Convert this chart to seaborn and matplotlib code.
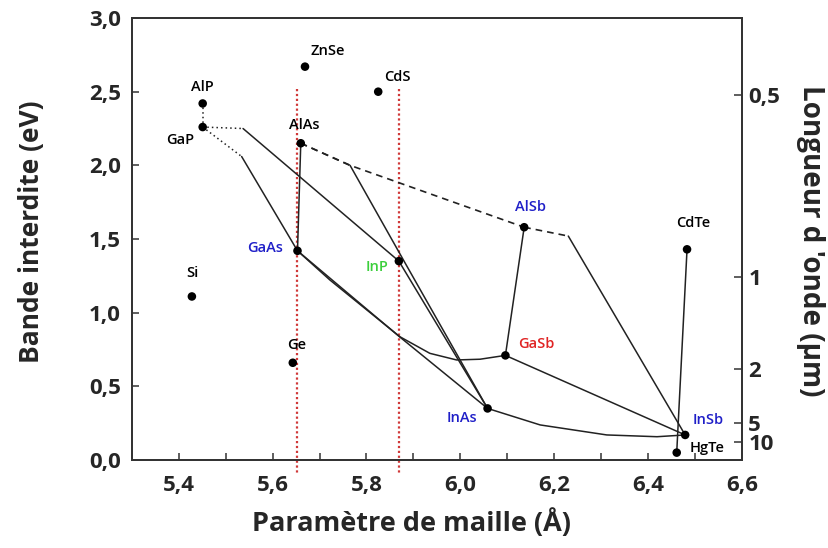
import matplotlib
matplotlib.use("Agg")
import matplotlib.pyplot as plt
import pandas as pd
import seaborn as sns

# %% binary compounds: lattice parameter (Å), band gap (eV)
names = ["AlP", "GaP", "ZnSe", "CdS", "AlAs", "GaAs", "InP", "Si", "Ge",
         "AlSb", "GaSb", "InAs", "InSb", "HgTe", "CdTe"]
lattice = [5.451, 5.451, 5.669, 5.825, 5.660, 5.653, 5.869, 5.428, 5.643,
           6.136, 6.096, 6.058, 6.479, 6.461, 6.483]
gap = [2.42, 2.26, 2.67, 2.50, 2.15, 1.42, 1.35, 1.11, 0.66,
       1.58, 0.71, 0.35, 0.17, 0.05, 1.43]
label_colors = ["black", "black", "black", "black", "black", "#1f1fc8", "#3ccf3c", "black", "black",
                "#1f1fc8", "#e02424", "#1f1fc8", "#1f1fc8", "black", "black"]

# ternary alloys
alp_gap_x, alp_gap_y = [5.451, 5.451], [2.42, 2.26]
gainp_ind_x, gainp_ind_y = [5.451, 5.537], [2.26, 2.25]
gainp_x, gainp_y = [5.537, 5.869], [2.25, 1.35]
gaasp_ind_x, gaasp_ind_y = [5.451, 5.534], [2.26, 2.06]
gaasp_x, gaasp_y = [5.534, 5.653], [2.06, 1.42]
algaas_x, algaas_y = [5.660, 5.653], [2.15, 1.42]
alassb_x, alassb_y = [5.660, 5.765, 6.136], [2.15, 2.00, 1.58]
alinas_ind_x, alinas_ind_y = [5.660, 5.765], [2.15, 2.00]
alinas_x, alinas_y = [5.765, 5.880, 6.058], [2.00, 1.35, 0.35]
alinsb_ind_x, alinsb_ind_y = [6.136, 6.230], [1.58, 1.52]
alinsb_x, alinsb_y = [6.230, 6.479], [1.52, 0.17]
algasb_x, algasb_y = [6.136, 6.096], [1.58, 0.71]
gainsb_x, gainsb_y = [6.096, 6.479], [0.71, 0.17]
inassb_x = [6.058, 6.170, 6.312, 6.419, 6.479]
inassb_y = [0.35, 0.238, 0.170, 0.158, 0.17]
gaassb_x = [5.653, 5.722, 5.871, 5.935, 5.992, 6.042, 6.096]
gaassb_y = [1.42, 1.222, 0.837, 0.724, 0.679, 0.684, 0.71]
gainas_x, gainas_y = [5.653, 5.871, 6.058], [1.42, 0.835, 0.35]
inasp_x, inasp_y = [5.869, 6.058], [1.35, 0.35]
cdhgte_x, cdhgte_y = [6.483, 6.461], [1.43, 0.05]

# substrates marked by red dotted lines
substrate_x = [5.653, 5.869]
substrate_span = [2.52, -0.09]

# right axis: wavelength (µm)
wavelengths = [0.5, 1, 2, 5, 10]
wavelength_labels = ["0,5", "1", "2", "5", "10"]

# %%
sns.set_theme(style="ticks")
plt.rcParams["font.family"] = ["Open Sans", "DejaVu Sans"]

fig = plt.figure(figsize=(8.29, 5.48), dpi=100)
ax = fig.add_axes([0.159, 0.1606, 0.736, 0.8065])

for xs in substrate_x:
    ax.plot([xs, xs], substrate_span, color="#d03838", lw=1.6, ls=(0, (1, 1.2)),
            clip_on=False, zorder=1)

solid = [(gainp_x, gainp_y), (gaasp_x, gaasp_y), (algaas_x, algaas_y), (alinas_x, alinas_y),
         (alinsb_x, alinsb_y), (algasb_x, algasb_y), (gainsb_x, gainsb_y), (inassb_x, inassb_y),
         (gaassb_x, gaassb_y), (gainas_x, gainas_y), (inasp_x, inasp_y), (cdhgte_x, cdhgte_y)]
dotted = [(alp_gap_x, alp_gap_y), (gainp_ind_x, gainp_ind_y), (gaasp_ind_x, gaasp_ind_y)]
dashed = [(alassb_x, alassb_y), (alinas_ind_x, alinas_ind_y), (alinsb_ind_x, alinsb_ind_y)]

for xs, ys in solid:
    sns.lineplot(x=xs, y=ys, sort=False, estimator=None, color="#222222", lw=1.1, ax=ax)
for xs, ys in dotted:
    sns.lineplot(x=xs, y=ys, sort=False, estimator=None, color="#222222", lw=1.1,
                 ax=ax).lines[-1].set_linestyle((0, (1, 2)))
for xs, ys in dashed:
    sns.lineplot(x=xs, y=ys, sort=False, estimator=None, color="#222222", lw=1.2,
                 ax=ax).lines[-1].set_linestyle((0, (4, 3)))

df = pd.DataFrame({"name": names, "a": lattice, "Eg": gap})
sns.scatterplot(data=df, x="a", y="Eg", color="black", s=38, edgecolor="none", zorder=5, ax=ax)

# label offsets in points
offsets = {"AlP": (0, 12), "GaP": (-16.5, -9.4), "ZnSe": (16.5, 11.5), "CdS": (13.7, 10.8),
           "AlAs": (2.2, 13), "GaAs": (-23, 2), "InP": (-15.8, -4.3), "Si": (0.7, 16.6),
           "Ge": (2.9, 13), "AlSb": (4.3, 14.4), "GaSb": (22.3, 7.9), "InAs": (-18.7, -7.2),
           "InSb": (16.6, 10.8), "HgTe": (21.6, 3.6), "CdTe": (4.3, 18.7)}
for n, xv, yv, c in zip(names, lattice, gap, label_colors):
    dx, dy = offsets[n]
    ax.annotate(n, (xv, yv), xytext=(dx, dy), textcoords="offset points", ha="center",
                va="center", fontsize=10.5, fontweight="semibold", color=c)

ax.set_xlim(5.3, 6.6)
ax.set_ylim(0, 3.0)
ax.set_xticks([5.4, 5.6, 5.8, 6.0, 6.2, 6.4, 6.6])
ax.set_xticklabels(["5,4", "5,6", "5,8", "6,0", "6,2", "6,4", "6,6"])
ax.set_xticks([5.3, 5.5, 5.7, 5.9, 6.1, 6.3, 6.5], minor=True)
ax.set_yticks([0, 0.5, 1.0, 1.5, 2.0, 2.5, 3.0])
ax.set_yticklabels(["0,0", "0,5", "1,0", "1,5", "2,0", "2,5", "3,0"])
ax.tick_params(axis="both", which="both", direction="in", length=5, width=1.1, color="#333333",
               labelsize=16, pad=8)
ax.tick_params(axis="x", which="both", pad=11)
for lab in ax.get_xticklabels() + ax.get_yticklabels():
    lab.set_fontweight("bold")
ax.set_xlabel("Paramètre de maille (Å)", fontsize=19.5, fontweight="bold")
ax.set_ylabel("Bande interdite (eV)", fontsize=19, fontweight="bold")
ax.xaxis.set_label_coords(0.459, -0.109)
ax.yaxis.set_label_coords(-0.143, 0.516)

ax2 = ax.twinx()
ax2.set_ylim(ax.get_ylim())
ax2.set_yticks([1.24 / w for w in wavelengths])
ax2.set_yticklabels(wavelength_labels)
ax2.tick_params(axis="y", direction="in", length=6, width=1.1, color="#333333", labelsize=16, pad=4.5)
for lab in ax2.get_yticklabels():
    lab.set_fontweight("bold")
ax2.set_ylabel("Longueur d 'onde (µm)", fontsize=20, fontweight="bold", rotation=270, va="center")
ax2.yaxis.set_label_coords(1.112, 0.495)

for a in (ax, ax2):
    for sp in a.spines.values():
        sp.set_color("#333333")
        sp.set_linewidth(1.3)

plt.savefig("out.png", dpi=100)
